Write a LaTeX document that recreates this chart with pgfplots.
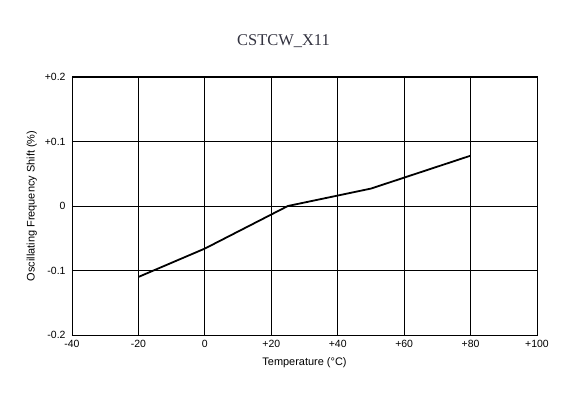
\documentclass[border=0pt]{standalone}
\usepackage{pgfplots}
\pgfplotsset{compat=1.18}
\usepackage{fontspec}
\setmainfont{Liberation Sans}
\newfontfamily\titlefont{Liberation Serif}
\definecolor{titlecol}{HTML}{333340}
\begin{document}
\begin{tikzpicture}
\path[use as bounding box] (-72bp,-63bp) rectangle (516bp,335bp);
\begin{axis}[
  at={(0,0)}, anchor=south west,
  scale only axis,
  width=465bp, height=258bp,
  xmin=-40, xmax=100, ymin=-0.2, ymax=0.2,
  xtick={-40,-20,0,20,40,60,80,100},
  xticklabels={-40,-20,0,+20,+40,+60,+80,+100},
  ytick={-0.2,-0.1,0,0.1,0.2},
  yticklabels={-0.2,-0.1,0,+0.1,+0.2},
  major tick length=0pt,
  grid=major,
  major grid style={black, line width=0.8pt},
  axis line style={black, line width=1pt},
  tick label style={font=\fontsize{10.5}{12}\selectfont},
  xticklabel style={yshift=-2bp},
  yticklabel style={xshift=-3bp},
  xlabel={Temperature (°C)},
  ylabel={Oscillating Frequency Shift (\%)},
  label style={font=\fontsize{11}{13}\selectfont},
  xlabel style={yshift=-3bp},
  ylabel style={yshift=1bp},
  title={\titlefont CSTCW\_X11},
  title style={font=\fontsize{16.5}{18}\selectfont, text=titlecol, yshift=20bp, xshift=-21bp},
  clip=false,
]
\addplot[black, line width=1.8pt] coordinates {
  (-20,-0.110) (0,-0.066) (25,0.0) (50,0.027) (80,0.078)
};
\end{axis}
\end{tikzpicture}
\end{document}
